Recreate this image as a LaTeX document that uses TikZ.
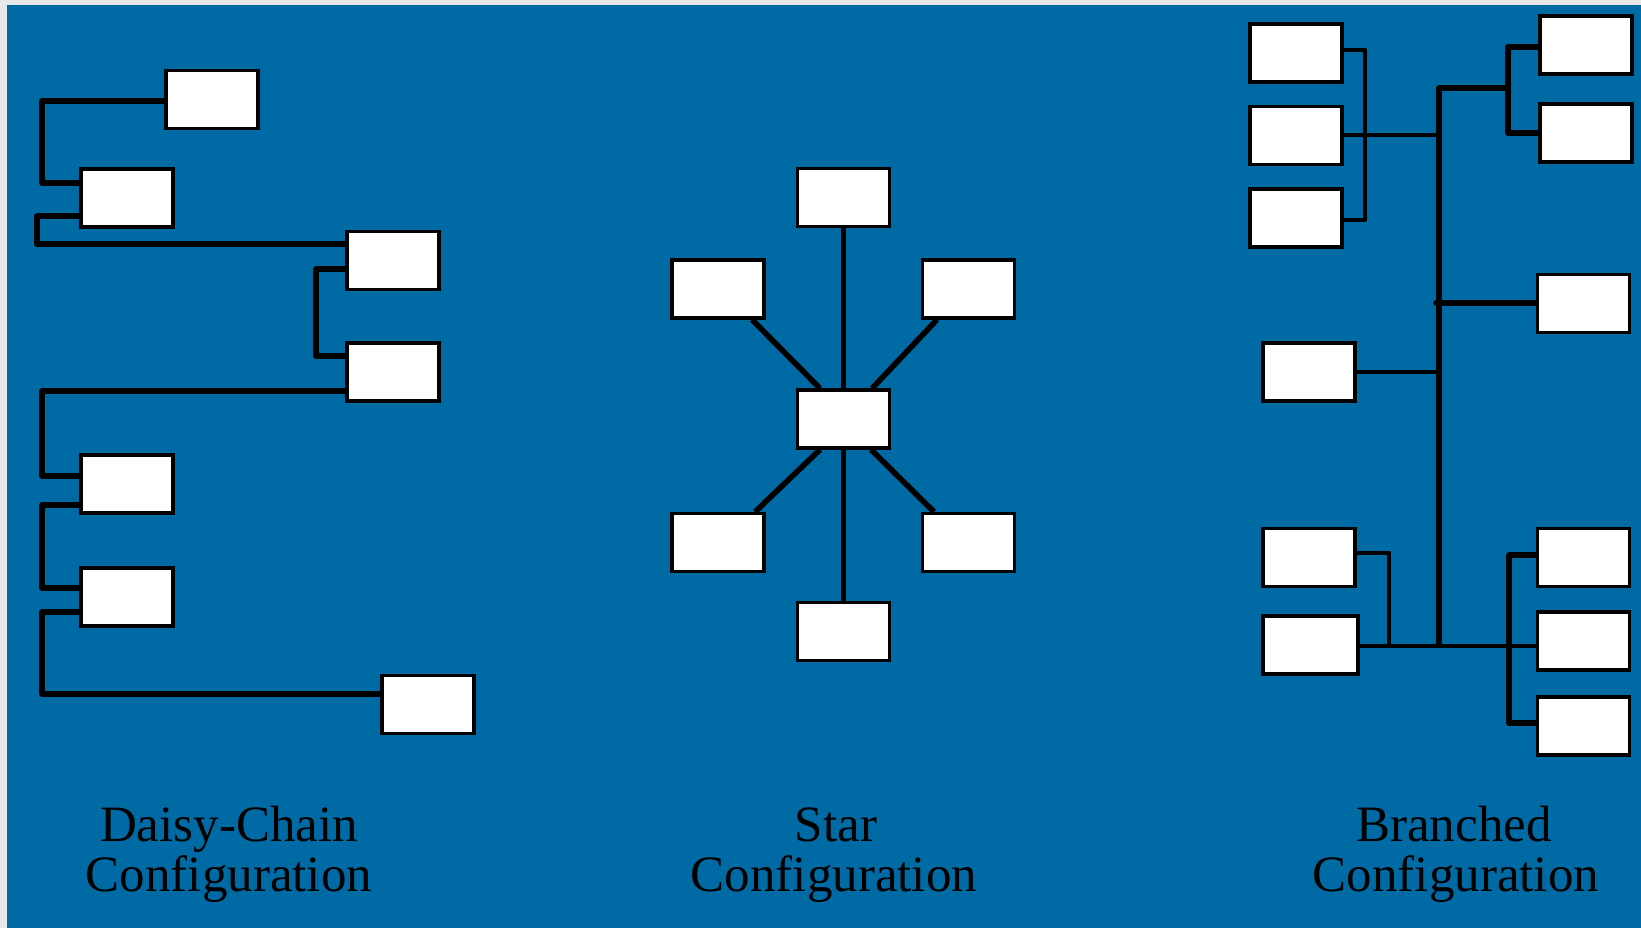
\documentclass[tikz,border=0pt]{standalone}
\usepackage{fontspec}
\setmainfont{Liberation Serif}
\usetikzlibrary{calc}
\definecolor{panelblue}{RGB}{0,106,164}
\definecolor{edgegrey}{RGB}{232,232,232}
\begin{document}
\begin{tikzpicture}[x=0.5pt,y=-0.5pt,
  unit/.style={draw=black, fill=white, line width=1.6pt, inner sep=0pt,
               minimum width=46pt, minimum height=29pt},
  wire/.style={line width=2.8pt, line join=round},
  thinwire/.style={line width=2.4pt, line join=round},
  caption/.style={font=\fontsize{25.5pt}{25pt}\selectfont, anchor=base, inner sep=0pt}]

% page and panel
\fill[edgegrey] (0,0) rectangle (1641,928);
\useasboundingbox (0,0) rectangle (1641,928);
\fill[panelblue] (7,5) rectangle (1641,928);

% ---------- daisy chain ----------
\node[unit] (A) at (212,99.5) {};
\node[unit] (B) at (127,198) {};
\node[unit] (C) at (393,260.5) {};
\node[unit] (D) at (393,372) {};
\node[unit] (E) at (127,484) {};
\node[unit] (F) at (127,597) {};
\node[unit] (G) at (428,704.5) {};

\draw[wire] (A.west |- 0,101) -| (42,183) -- (B.west |- 0,183);
\draw[wire] (B.west |- 0,216) -| (37,244) -- (C.west |- 0,244);
\draw[wire] (C.west |- 0,269) -| (316,356) -- (D.west |- 0,356);
\draw[wire] (D.west |- 0,391) -| (42,476) -- (E.west |- 0,476);
\draw[wire] (E.west |- 0,505) -| (42,588) -- (F.west |- 0,588);
\draw[wire] (F.west |- 0,612) -| (42,694) -- (G.west |- 0,694);

% ---------- star ----------
\node[unit] (hub) at (843.5,419) {};
\node[unit] (sTop) at (843.5,197.5) {};
\node[unit] (sUL) at (718,289) {};
\node[unit] (sUR) at (968.5,289) {};
\node[unit] (sLL) at (718,542.5) {};
\node[unit] (sLR) at (968.5,542.5) {};
\node[unit] (sBot) at (843.5,631.5) {};

\draw[wire] (sTop) -- (hub);
\draw[wire] (sBot) -- (hub);
\draw[wire] (sUL.south -| 752,0) -- (hub.north -| 820,0);
\draw[wire] (sUR.south -| 937,0) -- (hub.north -| 872,0);
\draw[wire] (hub.south -| 820,0) -- (sLL.north -| 755,0);
\draw[wire] (hub.south -| 871,0) -- (sLR.north -| 934,0);

% ---------- branched ----------
\node[unit] (TL1) at (1296,53) {};
\node[unit] (TL2) at (1296,135.5) {};
\node[unit] (TL3) at (1296,218) {};
\node[unit] (TR1) at (1586,45) {};
\node[unit] (TR2) at (1586,133) {};
\node[unit] (TR3) at (1583.5,303.5) {};
\node[unit] (ML) at (1309,372) {};
\node[unit] (BL1) at (1309,557.5) {};
\node[unit, minimum width=47.5pt] (BL2) at (1310.5,645) {};
\node[unit] (BR1) at (1583.5,557.5) {};
\node[unit] (BR2) at (1583.5,641) {};
\node[unit] (BR3) at (1583.5,726) {};

\coordinate (trunkTop) at (1439,88);
\coordinate (trunkBot) at (1439,646);

% main trunk with the upper branch
\draw[wire] (trunkBot) -- (trunkTop) -- (1508,88);
\draw[wire] (TR1.west |- 0,47) -| (1508,133) -- (TR2.west |- 0,133);
% upper left group
\draw[thinwire] (TL1.east |- 0,50) -| (1365,220) -- (TL3.east |- 0,220);
\draw[thinwire] (TL2.east |- 0,135) -- (trunkTop |- 0,135);
% single drops
\draw[wire, line cap=round] (1436,303) -- (TR3.west |- 0,303);
\draw[thinwire] (ML.east |- 0,372) -- (trunkTop |- 0,372);
% lower bus
\draw[thinwire] (BL2.east |- 0,646) -- (BR2.west |- 0,646);
\draw[thinwire] (BL1.east |- 0,553) -| (1389,646);
\draw[wire] (BR1.west |- 0,555) -| (1509,723) -- (BR3.west |- 0,723);

% ---------- captions ----------
\node[caption] (dcA) at (229,841) {Daisy-Chain};
\node[caption] (dcB) at (229,891) {Configuration};
\node[caption] (stA) at (836,841) {Star};
\node[caption] (stB) at (834,891) {Configuration};
\node[caption] (brA) at (1454,841) {Branched};
\node[caption] (brB) at (1456,891) {Configuration};
\end{tikzpicture}
\end{document}
